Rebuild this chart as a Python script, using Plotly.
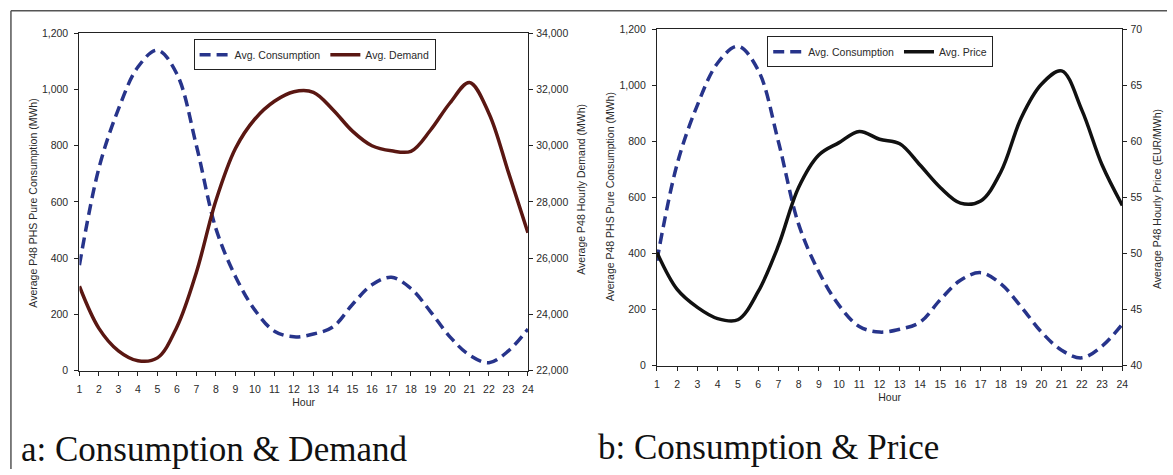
import plotly.graph_objects as go

hours = list(range(1, 25))
consumption = [375, 720, 930, 1080, 1140, 1055, 800, 505, 335, 215, 140, 120,
               130, 155, 235, 305, 332, 292, 210, 120, 55, 28, 70, 148]
demand = [25000, 23500, 22700, 22350, 22450, 23550, 25500, 28050, 29900, 30950,
          31580, 31920, 31900, 31280, 30520, 30000, 29820, 29800, 30550, 31520,
          32250, 31150, 29050, 26900]
price = [50.1, 46.8, 45.2, 44.2, 44.1, 46.6, 50.7, 55.9, 58.8, 59.9, 60.9, 60.2,
         59.8, 57.9, 55.9, 54.5, 54.7, 57.3, 62.1, 65.1, 66.3, 62.8, 57.9, 54.3]

left_ticks = [0, 200, 400, 600, 800, 1000, 1200]
demand_ticks = [22000, 24000, 26000, 28000, 30000, 32000, 34000]
price_ticks = [40, 45, 50, 55, 60, 65, 70]

captions = ["a: Consumption & Demand", "b: Consumption & Price"]
legend_names = ["Avg. Consumption", "Avg. Demand", "Avg. Price"]
ytitles = ["Average P48 PHS Pure Consumption (MWh)",
           "Average P48 Hourly Demand (MWh)",
           "Average P48 Hourly Price (EUR/MWh)"]

W, H = 1173, 475
FONT = "Liberation Sans, Arial, sans-serif"
SERIF = "Liberation Serif, Times New Roman, DejaVu Serif, serif"
BLUE = "#27348b"
MAROON = "#5a1712"
TXT = "#2a2a2a"


def px_x(p):
    return p / W


def px_y(p):
    return 1 - p / H


fig = go.Figure()

fig.add_trace(go.Scatter(x=hours, y=consumption, name=legend_names[0], xaxis="x", yaxis="y",
                         mode="lines", line=dict(color=BLUE, width=3.5, dash="11px,6px", shape="spline"),
                         legend="legend"))
fig.add_trace(go.Scatter(x=hours, y=demand, name=legend_names[1], xaxis="x", yaxis="y2",
                         mode="lines", line=dict(color=MAROON, width=3.5, shape="spline"),
                         legend="legend"))
fig.add_trace(go.Scatter(x=hours, y=consumption, name=legend_names[0], xaxis="x2", yaxis="y3",
                         mode="lines", line=dict(color=BLUE, width=3.5, dash="11px,6px", shape="spline"),
                         legend="legend2"))
fig.add_trace(go.Scatter(x=hours, y=price, name=legend_names[2], xaxis="x2", yaxis="y4",
                         mode="lines", line=dict(color="#111111", width=3.5, shape="spline"),
                         legend="legend2"))

tickfont = dict(family=FONT, size=10.5, color=TXT)

xcommon = dict(range=[1, 24], tickvals=hours, showline=True, linecolor="#222222", linewidth=1.2,
               ticks="outside", ticklen=4, tickcolor="#222222", tickfont=tickfont,
               showgrid=False, zeroline=False, mirror=True, ticklabelstandoff=5,
               title=dict(text="Hour", font=dict(family=FONT, size=10.5, color=TXT), standoff=4))
ycommon = dict(showline=True, linecolor="#222222", linewidth=1.2, ticks="outside", ticklen=4,
               tickcolor="#222222", tickfont=tickfont, showgrid=False, zeroline=False,
               tickformat=",d")

fig.update_layout(
    width=W, height=H, margin=dict(l=0, r=0, t=0, b=0),
    paper_bgcolor="white", plot_bgcolor="white",
    font=dict(family=FONT, size=10.5, color=TXT),
    xaxis=dict(domain=[px_x(77), px_x(529)], anchor="y", **xcommon),
    yaxis=dict(domain=[px_y(374), px_y(28)], anchor="x", range=[0, 1200], tickvals=left_ticks,
               ticklabelstandoff=4, **ycommon),
    yaxis2=dict(overlaying="y", side="right", anchor="x", range=[22000, 34000], tickvals=demand_ticks,
                ticklabelstandoff=1, **ycommon),
    xaxis2=dict(domain=[px_x(659), px_x(1128)], anchor="y3", **xcommon),
    yaxis3=dict(domain=[px_y(369), px_y(24)], anchor="x2", range=[0, 1200], tickvals=left_ticks,
                ticklabelstandoff=4, **ycommon),
    yaxis4=dict(overlaying="y3", side="right", anchor="x2", range=[40, 70], tickvals=price_ticks,
                ticklabelstandoff=1, **ycommon),
    legend=dict(x=px_x(314), y=px_y(34), xanchor="center", yanchor="top", orientation="h",
                bordercolor="#222222", borderwidth=1, bgcolor="white",
                font=dict(family=FONT, size=10.5, color=TXT), itemwidth=30, tracegroupgap=0),
    legend2=dict(x=px_x(884), y=px_y(31), xanchor="center", yanchor="top", orientation="h",
                 bordercolor="#222222", borderwidth=1, bgcolor="white",
                 font=dict(family=FONT, size=10.5, color=TXT), itemwidth=30, tracegroupgap=0),
    showlegend=True,
)

annots = [
    dict(text=ytitles[0], x=px_x(30), y=px_y(202), textangle=-90),
    dict(text=ytitles[1], x=px_x(583), y=px_y(188), textangle=-90),
    dict(text=ytitles[0], x=px_x(612), y=px_y(196), textangle=-90),
    dict(text=ytitles[2], x=px_x(1163), y=px_y(198), textangle=-90),
]
for a in annots:
    fig.add_annotation(xref="paper", yref="paper", showarrow=False, xanchor="center", yanchor="middle",
                       font=dict(family=FONT, size=10.5, color=TXT), **a)

fig.add_annotation(text=captions[0], xref="paper", yref="paper", x=px_x(16), y=px_y(455),
                   xanchor="left", yanchor="middle", showarrow=False,
                   font=dict(family=SERIF, size=35, color="#111111"))
fig.add_annotation(text=captions[1], xref="paper", yref="paper", x=px_x(598), y=px_y(453),
                   xanchor="left", yanchor="middle", showarrow=False,
                   font=dict(family=SERIF, size=35, color="#111111"))

# outer frame lines
fig.add_shape(type="line", xref="paper", yref="paper", x0=px_x(8), x1=1, y0=px_y(5), y1=px_y(5),
              line=dict(color="#555555", width=1.5))
fig.add_shape(type="line", xref="paper", yref="paper", x0=px_x(8), x1=px_x(8), y0=px_y(5), y1=0,
              line=dict(color="#555555", width=1.5))

fig.write_html("out.html")
